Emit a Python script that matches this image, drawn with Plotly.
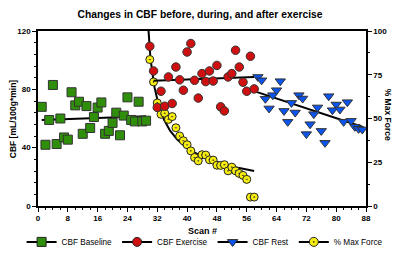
import numpy as np
import plotly.graph_objects as go

# ---------------- data ----------------
baseline_x = list(range(1, 30))
baseline_y = [68, 42, 59, 83, 42.5, 60, 47, 45.5, 78, 69, 71.5, 49.5, 68.5, 53.5, 61,
              67.5, 71, 49.5, 51.5, 57, 64, 48.5, 62, 74.5, 59, 58, 71.5, 58, 58.5]

exercise_x = list(range(30, 59))
exercise_y = [109.5, 92.6, 67.6, 78.7, 68.4, 88.5, 70.3, 95.3, 86.5, 79.4, 105.6, 111.4,
              86.2, 74, 90.8, 85.3, 92.6, 85.7, 96.4, 68, 65.2, 88.5, 90.8, 106.8, 95.3,
              84.9, 78.7, 102.7, 80.3]

rest_x = list(range(59, 88))
rest_y = [88.5, 86.2, 73.5, 66.9, 76, 79.4, 85.6, 65.2, 57.7, 70.7, 64.1, 76, 73.7, 49.3,
          56.1, 63, 67.6, 51.5, 43.3, 75.3, 65.7, 69.6, 66.2, 57.7, 71.2, 58.4, 54.3,
          52.9, 52.5]

force_x = list(range(30, 59))
force_y = [83.7, 70.9, 58.9, 52.4, 53.0, 49.5, 51.1, 44.7, 40.0, 37.3, 35.0, 31.5, 27.7,
           25.8, 29.3, 29.1, 26.4, 26.2, 23.3, 23.2, 23.6, 20.1, 22.2, 20.1, 18.6, 17.5,
           15.2, 5.1, 5.1]

# trend-line ranges (scan #) and the decay fit of % max force
exercise_fit_range = [31, 58]
rest_fit_range = [58, 87]
force_fit_offset, force_fit_scale, force_fit_power = 28.0, 130.0, 0.55
force_fit_range = [29.4, 58]

x_ticks = list(range(0, 89, 8))
cbf_ticks = [0, 40, 80, 120]
force_ticks = [0, 25, 50, 75, 100]

# ---------------- styling ----------------
FONT = "Arial, Liberation Sans, sans-serif"
GREEN, RED, BLUE, YELLOW = "#2f8f0a", "#d01010", "#0b55ee", "#f7ee10"
EDGE = "#333333"


def lin_fit(xs, ys, xr):
    k, b = np.polyfit(xs, ys, 1)
    xx = np.array(xr, dtype=float)
    return xx, k * xx + b


fig = go.Figure()

# % max force lives on yaxis (right side); CBF on yaxis2 (left side, drawn on top)
fx = np.linspace(force_fit_range[0], force_fit_range[1], 200)
fy = force_fit_scale * (fx - force_fit_offset) ** (-force_fit_power)
fig.add_trace(go.Scatter(x=fx, y=fy, mode="lines", line=dict(color="black", width=2),
                         yaxis="y", showlegend=False, hoverinfo="skip"))
fig.add_trace(go.Scatter(x=force_x, y=force_y, mode="markers", yaxis="y", showlegend=False,
                         marker=dict(symbol="circle-dot", size=8, color=YELLOW,
                                     line=dict(color="#222222", width=1))))

bx, by = lin_fit(baseline_x, baseline_y, [baseline_x[0], baseline_x[-1]])
ex, ey = lin_fit(exercise_x, exercise_y, exercise_fit_range)
rx, ry = lin_fit(rest_x, rest_y, rest_fit_range)
for xx, yy in [(bx, by), (ex, ey), (rx, ry)]:
    fig.add_trace(go.Scatter(x=xx, y=yy, mode="lines", line=dict(color="black", width=2),
                             yaxis="y2", showlegend=False, hoverinfo="skip"))

fig.add_trace(go.Scatter(x=baseline_x, y=baseline_y, mode="markers", yaxis="y2", showlegend=False,
                         marker=dict(symbol="square", size=9, color=GREEN,
                                     line=dict(color=EDGE, width=1))))
fig.add_trace(go.Scatter(x=exercise_x, y=exercise_y, mode="markers", yaxis="y2", showlegend=False,
                         marker=dict(symbol="circle", size=8.5, color=RED,
                                     line=dict(color=EDGE, width=1))))
fig.add_trace(go.Scatter(x=rest_x, y=rest_y, mode="markers", yaxis="y2", showlegend=False,
                         marker=dict(symbol="triangle-down", size=9, color=BLUE,
                                     line=dict(color=EDGE, width=1))))

# legend entries (line + marker, like the original)
legend_items = [("CBF Baseline", "square", GREEN), ("CBF Exercise", "circle", RED),
                ("CBF Rest", "triangle-down", BLUE), ("% Max Force", "circle-dot", YELLOW)]
for name, sym, col in legend_items:
    fig.add_trace(go.Scatter(x=[None], y=[None], mode="lines+markers", name=name, yaxis="y2",
                             line=dict(color="black", width=2),
                             marker=dict(symbol=sym, size=9, color=col,
                                         line=dict(color="#222222", width=1))))

axis_common = dict(showgrid=False, zeroline=False, showline=True, linecolor="black",
                   linewidth=1.5, ticks="outside", ticklen=4, tickwidth=1.2,
                   tickcolor="black",
                   tickfont=dict(family=FONT, size=8, color="black", weight="bold"))

fig.update_layout(
    width=400, height=255,
    margin=dict(l=38, r=34, t=31, b=49, autoexpand=False),
    paper_bgcolor="white", plot_bgcolor="white",
    title=dict(text="<b>Changes in CBF before, during, and after exercise</b>",
               x=0.5, xanchor="center", y=1 - 14 / 255, yanchor="middle",
               font=dict(family=FONT, size=10.3, color="black")),
    xaxis=dict(range=[0, 88], tickvals=x_ticks, mirror=True,
               minor=dict(dtick=2, ticklen=2.5, tickwidth=1, tickcolor="black", ticks="outside"),
               **axis_common),
    yaxis=dict(range=[0, 100], tickvals=force_ticks, side="right",
               minor=dict(dtick=12.5, ticklen=2.5, tickwidth=1, tickcolor="black", ticks="outside"),
               **axis_common),
    yaxis2=dict(range=[0, 120], tickvals=cbf_ticks, side="left", overlaying="y",
                minor=dict(dtick=8, ticklen=2.5, tickwidth=1, tickcolor="black", ticks="outside"),
                **axis_common),
    legend=dict(orientation="h", x=-0.05, xanchor="left",
                y=-0.205, yanchor="middle",
                font=dict(family=FONT, size=8.2, color="black"),
                itemwidth=30,
                bgcolor="rgba(0,0,0,0)", tracegroupgap=0),
    showlegend=True,
)

fig.add_annotation(text="<b>Scan #</b>", xref="paper", yref="paper", x=0.5, y=-0.143,
                   xanchor="center", yanchor="middle", showarrow=False,
                   font=dict(family=FONT, size=9, color="black"))
fig.add_annotation(text="<b>CBF [mL/100g*min]</b>", xref="paper", yref="paper", x=-0.077, y=0.5,
                   xanchor="center", yanchor="middle", showarrow=False, textangle=-90,
                   font=dict(family=FONT, size=8.5, color="black"))
fig.add_annotation(text="<b>% Max Force</b>", xref="paper", yref="paper", x=1.068, y=0.52,
                   xanchor="center", yanchor="middle", showarrow=False, textangle=90,
                   font=dict(family=FONT, size=8.5, color="black"))

fig.write_html("out.html", config={"displayModeBar": False},
               post_script="document.body.style.margin='0';document.body.style.padding='0';")
